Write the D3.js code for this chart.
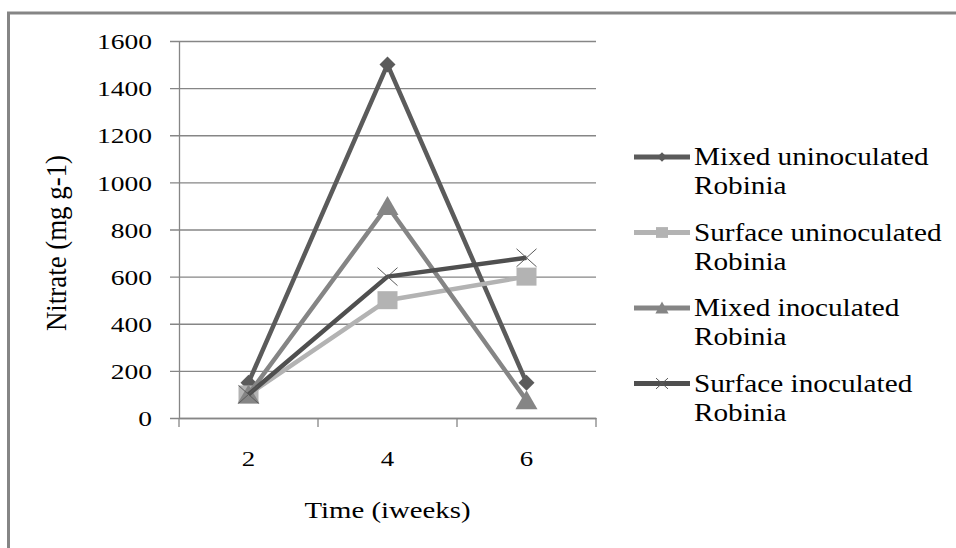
<!DOCTYPE html>
<html><head><meta charset="utf-8">
<script src="https://cdn.jsdelivr.net/npm/d3@7"></script>
<style>
html,body{margin:0;padding:0;background:#fff;}
svg{display:block;}
svg text{font-family:"Liberation Serif","Times New Roman",Times,"DejaVu Serif",serif !important;fill:#000;}
</style></head>
<body>
<svg id="chart" width="956" height="548"></svg>
<script>
const categories = ["2", "4", "6"];
const yTicks = [0, 200, 400, 600, 800, 1000, 1200, 1400, 1600];
const seriesNames = [
  ["Mixed uninoculated", "Robinia"],
  ["Surface uninoculated", "Robinia"],
  ["Mixed inoculated", "Robinia"],
  ["Surface inoculated", "Robinia"]
];
const mixedUninoculated = [150, 1500, 150];
const surfaceUninoculated = [100, 500, 600];
const mixedInoculated = [100, 900, 75];
const surfaceInoculated = [100, 600, 680];
const seriesValues = [mixedUninoculated, surfaceUninoculated, mixedInoculated, surfaceInoculated];
const seriesColors = ["#5b5b5b", "#b3b3b3", "#858585", "#4f4f4f"];
const seriesMarkers = ["diamond", "square", "triangle", "x"];
const yTitle = "Nitrate (mg g-1)";
const xTitle = "Time (iweeks)";

const svg = d3.select("#chart");
const plotLeft = 179, plotRight = 596, plotTop = 41, plotBottom = 418;

// outer frame
svg.append("rect").attr("x", 8.5).attr("y", 13).attr("width", 1000).attr("height", 600)
  .attr("fill", "none").attr("stroke", "#858585").attr("stroke-width", 3);

const x = d3.scaleBand().domain(categories).range([plotLeft, plotRight]).padding(0);
const y = d3.scaleLinear().domain([0, 1600]).range([plotBottom, plotTop]);

// gridlines + y axis
const yAxis = d3.axisLeft(y).tickValues(yTicks).tickSize(9).tickSizeOuter(0).tickFormat(d3.format("d"));
const gy = svg.append("g").attr("transform", `translate(${plotLeft},0)`).call(yAxis);
gy.attr("font-family", null).attr("font-size", null);
gy.select(".domain").attr("stroke", "#868686").attr("stroke-width", 1.3);
gy.selectAll(".tick line").attr("stroke", "#868686").attr("stroke-width", 1.3)
  .attr("x1", plotRight - plotLeft).attr("x2", -9);
gy.selectAll(".tick text").attr("x", 0).attr("dy", "0.35em")
  .attr("transform", "translate(-27,0) scale(1.25,1)")
  .style("font-size", "22px").attr("fill", "#000");

// x axis
const xAxis = d3.axisBottom(x).tickSize(0).tickSizeOuter(0);
const gx = svg.append("g").attr("transform", `translate(0,${plotBottom})`).call(xAxis);
gx.attr("font-family", null).attr("font-size", null);
gx.select(".domain").attr("stroke", "#868686").attr("stroke-width", 1.3);
gx.selectAll(".tick text").attr("y", 0).attr("dy", "0.71em")
  .attr("transform", "translate(0,32) scale(1.22,1)")
  .style("font-size", "22px").attr("fill", "#000");
// category boundary ticks
const bounds = categories.map(c => x(c)).concat([x(categories[categories.length - 1]) + x.bandwidth()]);
gx.selectAll(".btick").data(bounds).enter().append("line")
  .attr("x1", d => d).attr("x2", d => d).attr("y1", 0).attr("y2", 9)
  .attr("stroke", "#868686").attr("stroke-width", 1.3);

// axis titles
svg.append("text").attr("text-anchor", "middle")
  .attr("transform", `translate(387.5,518) scale(1.2,1)`)
  .style("font-size", "24px").text(xTitle);
svg.append("text").attr("text-anchor", "middle")
  .attr("transform", `translate(66,243) rotate(-90) scale(1.12,1.2)`)
  .style("font-size", "24px").text(yTitle);

function drawMarker(g, type, cx, cy, color, scale) {
  const s = scale || 1;
  if (type === "diamond") {
    const r = 8 * s;
    g.append("path").attr("d", `M${cx},${cy - r}L${cx + r},${cy}L${cx},${cy + r}L${cx - r},${cy}Z`).attr("fill", color);
  } else if (type === "square") {
    const w = 20 * s, h = 18 * s;
    g.append("rect").attr("x", cx - w / 2).attr("y", cy - h / 2).attr("width", w).attr("height", h).attr("fill", color);
  } else if (type === "triangle") {
    const w = 11 * s, h = 18 * s;
    g.append("path").attr("d", `M${cx},${cy - h / 2 - 1}L${cx + w},${cy + h / 2}L${cx - w},${cy + h / 2}Z`).attr("fill", color);
  } else if (type === "x") {
    const r = 10 * s, ry = 9 * s;
    g.append("path").attr("d", `M${cx - r},${cy - ry}L${cx + r},${cy + ry}M${cx - r},${cy + ry}L${cx + r},${cy - ry}`)
      .attr("stroke", "#5a5a5a").attr("stroke-width", 1).attr("fill", "none");
  }
}

const cx = c => x(c) + x.bandwidth() / 2;
const line = d3.line().x((d, i) => cx(categories[i])).y(d => y(d));

seriesValues.forEach((vals, si) => {
  const g = svg.append("g");
  g.append("path").datum(vals).attr("d", line).attr("fill", "none")
    .attr("stroke", seriesColors[si]).attr("stroke-width", 4.5).attr("stroke-linejoin", "round");
  vals.forEach((v, i) => drawMarker(g, seriesMarkers[si], cx(categories[i]), y(v), seriesColors[si], 1));
});

// legend
const legendY = d3.scaleLinear().domain([0, 3]).range([157, 383.5]);
seriesNames.forEach((lines, si) => {
  const ly = legendY(si);
  const g = svg.append("g");
  g.append("line").attr("x1", 634).attr("x2", 690).attr("y1", ly).attr("y2", ly)
    .attr("stroke", seriesColors[si]).attr("stroke-width", 5);
  drawMarker(g, seriesMarkers[si], 662, ly, seriesColors[si], 0.6);
  lines.forEach((t, li) => {
    g.append("text").attr("transform", `translate(694,${ly + 8 + li * 29}) scale(1.17,1)`)
      .style("font-size", "25px").text(t);
  });
});
</script>
</body></html>
